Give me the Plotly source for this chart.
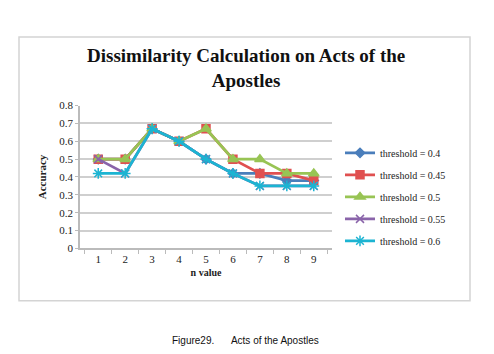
import plotly.graph_objects as go

W, H = 494, 354

n_values = ["1", "2", "3", "4", "5", "6", "7", "8", "9"]
thr_040 = [0.50, 0.50, 0.67, 0.60, 0.50, 0.42, 0.42, 0.38, 0.38]
thr_045 = [0.50, 0.50, 0.67, 0.60, 0.67, 0.50, 0.42, 0.42, 0.38]
thr_050 = [0.50, 0.50, 0.67, 0.60, 0.67, 0.50, 0.50, 0.42, 0.42]
thr_055 = [0.50, 0.42, 0.67, 0.60, 0.50, 0.42, 0.35, 0.35, 0.35]
thr_060 = [0.42, 0.42, 0.67, 0.60, 0.50, 0.42, 0.35, 0.35, 0.35]
series_names = ["threshold = 0.4", "threshold = 0.45", "threshold = 0.5",
                "threshold = 0.55", "threshold = 0.6"]
y_ticks = [0, 0.1, 0.2, 0.3, 0.4, 0.5, 0.6, 0.7, 0.8]
y_tick_text = ["0", "0.1", "0.2", "0.3", "0.4", "0.5", "0.6", "0.7", "0.8"]

colors = ["#4A7EBB", "#E05050", "#98C454", "#8A64AA", "#1CB4D2"]
symbols = ["diamond", "square", "triangle-up", "x-thin-open", "asterisk-open"]
msizes = [7, 8, 9, 8, 9]
data = [thr_040, thr_045, thr_050, thr_055, thr_060]

serif = "Liberation Serif, Times New Roman, serif"

fig = go.Figure()
for i, (name, ys) in enumerate(zip(series_names, data)):
    fig.add_trace(go.Scatter(
        x=n_values, y=ys, name=name, mode="lines+markers",
        legendgroup=f"g{i}",
        line=dict(color=colors[i], width=2.8),
        marker=dict(symbol=symbols[i], size=msizes[i], color=colors[i],
                    line=dict(color=colors[i], width=1.5)),
    ))

fig.update_layout(
    width=W, height=H,
    margin=dict(l=0, r=0, t=0, b=0),
    paper_bgcolor="white", plot_bgcolor="white",
    showlegend=True,
    legend=dict(
        x=340 / W, xanchor="left", y=1 - 137 / H, yanchor="top",
        font=dict(family=serif, size=10, color="#222222"),
        tracegroupgap=3, itemwidth=30, bgcolor="rgba(0,0,0,0)",
    ),
    xaxis=dict(
        domain=[80 / W, 332 / W], type="category", tickson="boundaries",
        ticks="outside", ticklen=4, tickcolor="#bbbbbb",
        showline=True, linecolor="#bbbbbb", linewidth=1.5,
        showgrid=False,
        tickfont=dict(family=serif, size=11, color="#222222"),
        title=dict(text="<b>n value</b>", font=dict(family=serif, size=10, color="#222222"),
                   standoff=5),
    ),
    yaxis=dict(
        domain=[1 - 251 / H, 1 - 103 / H], range=[0, 0.8],
        tickvals=y_ticks, ticktext=y_tick_text,
        ticks="outside", ticklen=3, tickcolor="#bbbbbb",
        showline=True, linecolor="#bbbbbb", linewidth=1.5,
        showgrid=True, gridcolor="#cfcfcf", gridwidth=1.5,
        zeroline=False,
        tickfont=dict(family=serif, size=11, color="#222222"),
        title=dict(text="<b>Accuracy</b>", font=dict(family=serif, size=11, color="#222222"),
                   standoff=10),
    ),
)

fig.add_annotation(text="<b>Dissimilarity Calculation on Acts of the<br>Apostles</b>",
                   xref="paper", yref="paper", x=246 / W, y=1 - 64 / H,
                   xanchor="center", yanchor="middle", showarrow=False,
                   font=dict(family=serif, size=19, color="#111111"))

fig.add_shape(type="rect", xref="paper", yref="paper",
              x0=19 / W, x1=470 / W, y0=1 - 305 / H, y1=1 - 32 / H,
              line=dict(color="#d4d4d4", width=1.5), layer="below")

fig.add_annotation(text="Figure29.&nbsp;&nbsp;&nbsp;&nbsp;&nbsp;&nbsp;Acts of the Apostles",
                   xref="paper", yref="paper", x=245 / W, y=1 - 346 / H,
                   xanchor="center", yanchor="middle", showarrow=False,
                   font=dict(family="Liberation Sans, Arial, sans-serif", size=10, color="#111111"))

fig.write_html("out.html")
